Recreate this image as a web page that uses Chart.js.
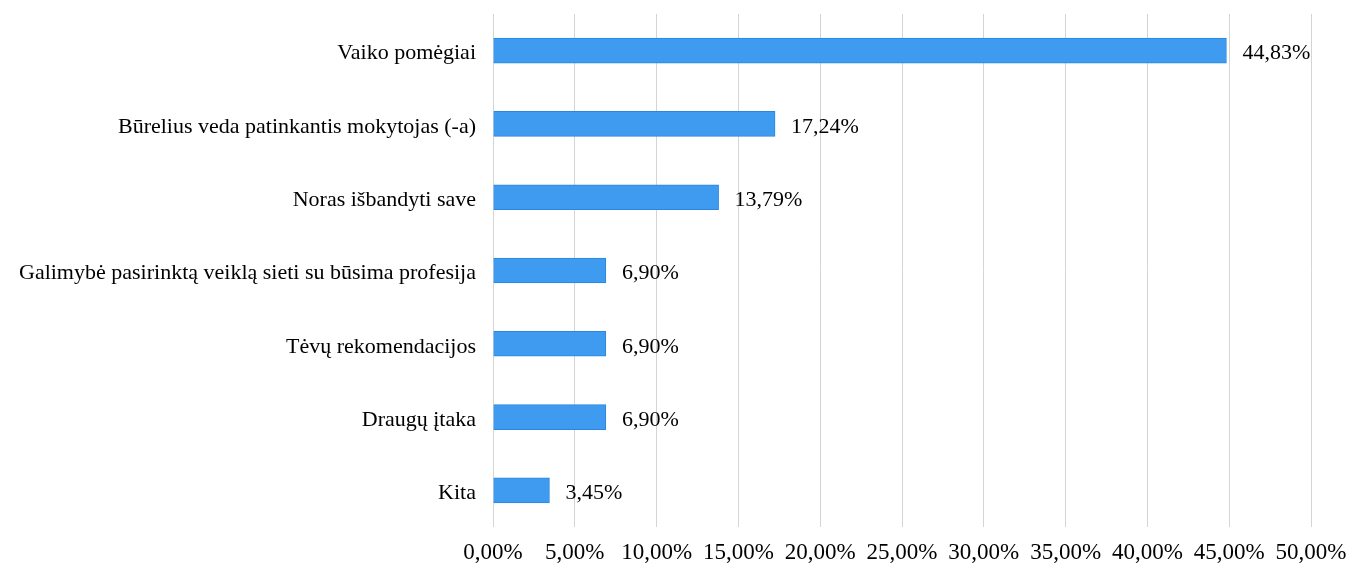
<!DOCTYPE html>
<html>
<head>
<meta charset="utf-8">
<script src="https://cdn.jsdelivr.net/npm/chart.js@4"></script>
<style>
  html, body { margin: 0; padding: 0; background: #fff; }
  #wrap { width: 1349px; height: 566px; }
</style>
</head>
<body>
<div id="wrap"><canvas id="chart"></canvas></div>
<script>
const categories = [
  'Vaiko pomėgiai',
  'Būrelius veda patinkantis mokytojas (-a)',
  'Noras išbandyti save',
  'Galimybė pasirinktą veiklą sieti su būsima profesija',
  'Tėvų rekomendacijos',
  'Draugų įtaka',
  'Kita'
];
const shares = [44.83, 17.24, 13.79, 6.90, 6.90, 6.90, 3.45];
const axisMin = 0;
const axisMax = 50;
const axisStep = 5;

const fmt = v => v.toFixed(2).replace('.', ',') + '%';
const serif = '"Liberation Serif", "Times New Roman", serif';

const valueLabels = {
  id: 'valueLabels',
  afterDatasetsDraw(chart) {
    const ctx = chart.ctx;
    const meta = chart.getDatasetMeta(0);
    ctx.save();
    ctx.font = '22px ' + serif;
    ctx.fillStyle = '#000';
    ctx.textBaseline = 'middle';
    ctx.textAlign = 'left';
    meta.data.forEach((bar, i) => {
      ctx.fillText(fmt(shares[i]), bar.x + 16, bar.y + 3);
    });
    ctx.restore();
  }
};

new Chart(document.getElementById('chart'), {
  type: 'bar',
  data: {
    labels: categories,
    datasets: [{
      data: shares,
      backgroundColor: '#3f9bf0',
      borderColor: '#2a86e0',
      borderWidth: 1,
      barThickness: 25
    }]
  },
  options: {
    indexAxis: 'y',
    responsive: true,
    maintainAspectRatio: false,
    animation: false,
    layout: { padding: { top: 14, right: 38, left: 0, bottom: 0 } },
    plugins: {
      legend: { display: false },
      tooltip: { enabled: false }
    },
    scales: {
      x: {
        min: axisMin,
        max: axisMax,
        ticks: {
          stepSize: axisStep,
          color: '#000',
          font: { family: serif, size: 23 },
          padding: 12,
          callback: v => fmt(v)
        },
        grid: { color: '#d4d4d4', lineWidth: 1, drawTicks: false },
        border: { display: false },
        afterFit: s => { s.height = 39; s.paddingLeft = 0; s.paddingRight = 0; }
      },
      y: {
        ticks: {
          color: '#000',
          font: { family: serif, size: 22 },
          padding: 17,
          labelOffset: 3
        },
        grid: { display: false, drawTicks: false },
        border: { display: false },
        afterFit: s => { s.width = 493; s.paddingTop = 0; s.paddingBottom = 0; }
      }
    }
  },
  plugins: [valueLabels]
});
</script>
</body>
</html>
